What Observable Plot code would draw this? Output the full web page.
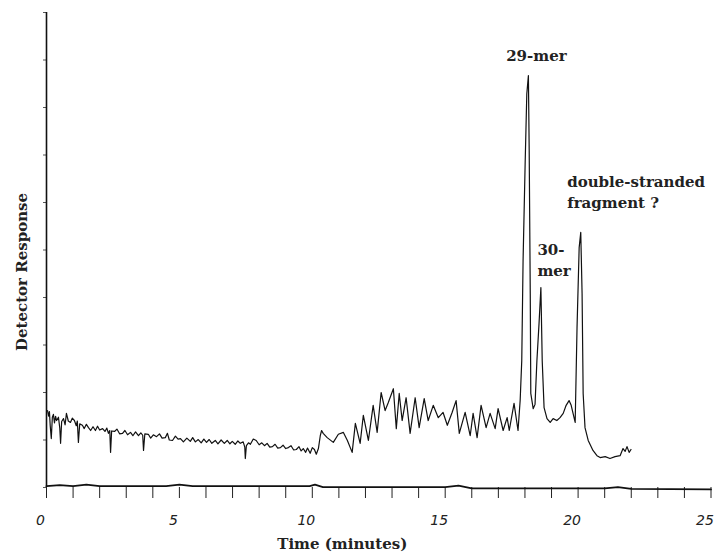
<!DOCTYPE html>
<html><head><meta charset="utf-8">
<script src="https://cdn.jsdelivr.net/npm/d3@7"></script>
<script src="https://cdn.jsdelivr.net/npm/@observablehq/plot@0.6"></script>
<style>body{margin:0;background:#fff}</style>
</head><body><div id="chart"></div>
<script>
// Sample trace: retention time (minutes) and detector response (arbitrary units)
const time = [
0.04,0.08,0.11,0.14,0.18,0.22,0.26,0.30,0.34,0.38,
0.45,0.50,0.53,0.57,0.64,0.70,0.75,0.82,0.90,0.97,
1.05,1.12,1.16,1.20,1.25,1.35,1.42,1.50,1.58,1.66,
1.75,1.84,1.92,2.00,2.11,2.20,2.27,2.33,2.38,2.41,
2.45,2.56,2.65,2.75,2.86,2.95,3.05,3.16,3.25,3.35,
3.46,3.55,3.62,3.65,3.70,3.83,3.92,4.02,4.14,4.25,
4.35,4.47,4.55,4.62,4.74,4.85,4.95,5.04,5.15,5.28,
5.41,5.50,5.60,5.71,5.82,5.92,6.02,6.12,6.22,6.35,
6.45,6.57,6.69,6.80,6.90,6.99,7.10,7.20,7.29,7.40,
7.46,7.48,7.52,7.60,7.67,7.78,7.89,8.00,8.10,8.20,
8.30,8.40,8.50,8.60,8.70,8.80,8.90,9.00,9.10,9.20,
9.30,9.40,9.50,9.58,9.66,9.75,9.82,9.92,10.00,10.08,
10.15,10.23,10.30,10.35,10.41,
10.56,10.79,10.98,11.17,11.32,11.50,11.62,11.80,11.92,12.11,12.29,12.44,12.59,12.74,12.86,13.05,13.16,13.27,13.38,13.53,13.68,13.87,14.02,14.21,14.36,14.55,14.74,14.92,15.08,15.26,15.41,15.53,15.75,15.94,16.05,16.20,16.35,16.54,16.69,16.88,16.99,17.18,17.33,17.41,17.59,17.74,
17.82,17.88,17.93,18.01,18.07,18.13,18.16,18.20,18.22,18.31,18.38,18.45,18.53,18.60,18.65,18.72,18.83,18.95,19.06,19.20,19.32,19.44,19.55,19.66,19.74,19.81,19.89,19.96,20.04,20.10,20.15,20.19,20.26,20.38,20.56,20.71,20.83,21.02,21.20,21.39,21.58,21.69,21.77,21.84,21.92,21.99];
const response = [
16.2,15.0,16.0,13.0,10.3,14.8,15.4,13.6,15.0,14.1,
14.8,12.5,9.3,13.9,14.5,13.2,15.6,14.0,13.7,14.6,
14.1,13.0,14.0,9.5,13.4,13.1,12.4,13.3,12.6,12.0,
12.8,12.0,12.9,12.1,12.4,11.8,12.5,11.4,12.0,7.4,
11.9,11.8,12.3,11.3,11.4,12.0,11.1,11.6,10.9,11.7,
10.9,11.5,11.0,7.8,11.3,11.2,10.4,11.1,10.7,11.3,
10.4,10.5,11.4,10.0,9.9,10.8,10.2,10.3,9.6,10.4,
9.7,10.5,9.6,10.1,9.4,10.2,9.5,10.1,9.3,9.9,
9.2,10.0,9.3,9.9,9.2,9.7,9.1,9.8,9.3,9.6,
8.5,6.1,8.8,9.4,9.1,10.2,9.9,9.0,9.4,8.8,
9.3,8.5,8.6,9.1,8.3,8.4,8.9,8.2,8.4,8.8,
7.9,8.0,8.6,7.7,8.2,7.4,8.3,7.2,8.4,8.0,
7.0,8.2,10.9,12.0,11.4,
10.5,9.5,11.2,11.6,9.9,7.4,13.5,9.3,15.2,9.9,17.3,11.6,20.0,16.2,17.9,20.8,12.4,19.8,14.1,18.9,11.4,18.9,12.6,18.7,14.1,17.3,14.7,15.8,13.1,15.8,18.3,11.4,15.8,10.9,15.6,10.5,17.3,12.6,15.6,12.4,16.6,12.0,14.7,12.0,17.7,12.0,
18.3,26.7,47.8,68.8,82.9,86.7,70.9,40.8,19.8,16.6,17.5,26.7,34.5,42.1,26.7,16.8,14.5,13.7,14.5,14.1,14.7,15.6,17.3,18.3,17.3,15.6,13.7,33.7,50.5,53.7,40.8,19.8,12.6,9.9,7.8,6.7,6.3,6.5,6.1,6.5,6.7,8.2,7.6,8.6,7.4,8.0];

// Blank trace lying along the time axis
const blankTime = [0.0,0.5,1.0,1.5,2.0,4.5,5.0,5.5,9.9,10.1,10.4,15.0,15.5,16.0,21.0,21.5,22.0,25.0];
const blankResponse = [0.3,0.5,0.3,0.6,0.3,0.3,0.6,0.3,0.3,0.6,0.1,0.1,0.4,-0.2,-0.2,0.1,-0.3,-0.4];

const xTicks = d3.range(0, 26, 1);
const xTickLabels = [0, 5, 10, 15, 20, 25];
const yTicks = d3.range(0, 101, 10);

const annotLabels = ["29-mer", "30-\nmer", "double-stranded\nfragment ?"];
const annotTime = [18.43, 18.47, 19.59];
const annotResponse = [90.9, 48.2, 62.5];
const annotAnchor = ["middle", "start", "start"];

const trace = time.map((t, i) => ({t, r: response[i]}));
const blank = blankTime.map((t, i) => ({t, r: blankResponse[i]}));
const annots = annotLabels.map((label, i) => ({label, t: annotTime[i], r: annotResponse[i], anchor: annotAnchor[i]}));

const serif = "DejaVu Serif";
const chart = Plot.plot({
  width: 719, height: 553,
  marginLeft: 46, marginRight: 8.5, marginTop: 12, marginBottom: 66,
  x: {domain: [0, 25]},
  y: {domain: [0, 100]},
  style: {background: "#fff", color: "#111"},
  marks: [
    Plot.axisX({ticks: xTicks, tickSize: 11, tickFormat: () => "", label: null, stroke: "#222"}),
    Plot.axisY({ticks: yTicks, tickSize: 3, tickFormat: () => "", label: null, stroke: "#555"}),
    Plot.ruleX([0], {stroke: "#111", strokeWidth: 1.6}),
    Plot.line(blank, {x: "t", y: "r", stroke: "#111", strokeWidth: 1.8}),
    Plot.line(trace, {x: "t", y: "r", stroke: "#111", strokeWidth: 1.2}),
    Plot.text(xTickLabels, {x: d => d, frameAnchor: "bottom", dy: 33, dx: -6, text: d => String(d),
      textAnchor: "middle", lineAnchor: "middle",
      fontFamily: "DejaVu Sans", fontStyle: "italic", fontSize: 14, fill: "#222"}),
    Plot.text(["Time (minutes)"], {frameAnchor: "bottom", dx: -36.5, dy: 57, textAnchor: "middle", lineAnchor: "middle",
      fontFamily: serif, fontWeight: "bold", fontSize: 15, fill: "#222"}),
    Plot.text(["Detector Response"], {frameAnchor: "left", dx: -24.5, dy: 22, rotate: -90, textAnchor: "middle", lineAnchor: "middle",
      fontFamily: serif, fontWeight: "bold", fontSize: 15, fill: "#222"}),
    Plot.text(annots.filter(d => d.anchor === "middle"), {x: "t", y: "r", text: "label", textAnchor: "middle", lineAnchor: "middle",
      fontFamily: serif, fontWeight: "bold", fontSize: 15, fill: "#222"}),
    Plot.text(annots.filter(d => d.anchor === "start"), {x: "t", y: "r", text: "label", textAnchor: "start", lineAnchor: "middle", lineHeight: 1.4,
      fontFamily: serif, fontWeight: "bold", fontSize: 15, fill: "#222"})
  ]
});
document.getElementById("chart").appendChild(chart);
</script>
</body></html>
